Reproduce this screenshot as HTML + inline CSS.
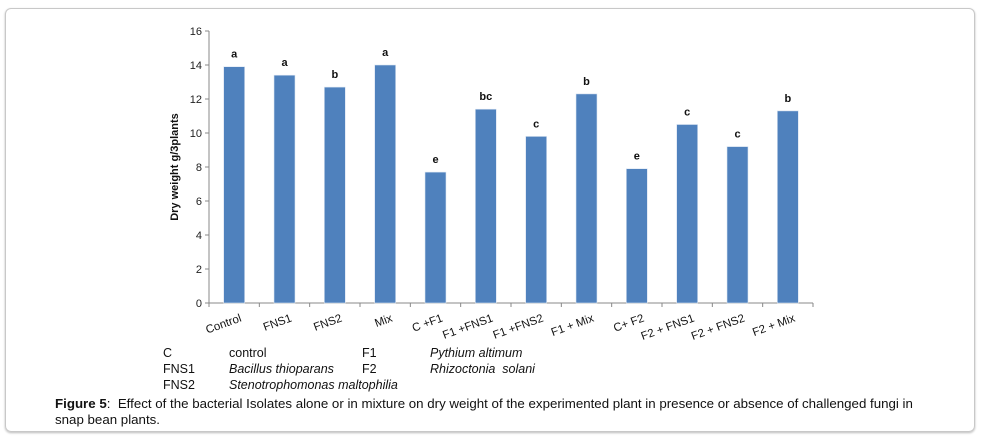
<!DOCTYPE html>
<html><head><meta charset="utf-8"><style>
body{margin:0;background:#fff;font-family:"Liberation Sans",Arial,sans-serif;}
#frame{position:absolute;left:5px;top:8px;width:968px;height:422px;border:1px solid #c8c8c8;border-radius:6px;box-shadow:0 1px 2px #bbb;}
.t{position:absolute;font-size:12.5px;color:#111;white-space:nowrap;}
.i{font-style:italic}
</style></head><body>
<div id="frame"></div>
<svg id="chart" width="982" height="441" style="position:absolute;left:0;top:0"></svg>
<div class="t" style="left:163px;top:346px">C</div>
<div class="t" style="left:229px;top:346px">control</div>
<div class="t" style="left:362px;top:346px">F1</div>
<div class="t i" style="left:430px;top:346px">Pythium altimum</div>
<div class="t" style="left:163px;top:362px">FNS1</div>
<div class="t i" style="left:229px;top:362px">Bacillus thioparans</div>
<div class="t" style="left:362px;top:362px">F2</div>
<div class="t i" style="left:430px;top:362px">Rhizoctonia &nbsp;solani</div>
<div class="t" style="left:163px;top:378px">FNS2</div>
<div class="t i" style="left:229px;top:378px">Stenotrophomonas maltophilia</div>
<div class="t" style="left:55px;top:396px;font-size:13.3px;line-height:16px;white-space:normal;width:875px"><b>Figure 5</b>:&nbsp; Effect of the bacterial Isolates alone or in mixture on dry weight of the experimented plant in presence or absence of challenged fungi in snap bean plants.</div>
<script>
const categories=["Control","FNS1","FNS2","Mix","C +F1","F1 +FNS1","F1 +FNS2","F1 + Mix","C+ F2","F2 + FNS1","F2 + FNS2","F2 + Mix"];
const values=[13.9,13.4,12.7,14.0,7.7,11.4,9.8,12.3,7.9,10.5,9.2,11.3];
const letters=["a","a","b","a","e","bc","c","b","e","c","c","b"];
const yTicks=[0,2,4,6,8,10,12,14,16];
const svg=document.getElementById('chart');const NS='http://www.w3.org/2000/svg';
const X0=209,X1=813,Y0=303,Y1=31,YMAX=16;
const y=v=>Y0-(v/YMAX)*(Y0-Y1);
const bw=(X1-X0)/categories.length;
const xc=i=>X0+bw*(i+0.5);
function mk(t,a,txt){const e=document.createElementNS(NS,t);for(const k in a)e.setAttribute(k,a[k]);if(txt!=null)e.textContent=txt;svg.appendChild(e);return e;}
let e;
e=mk('line',{x1:X0,y1:Y1,x2:X0,y2:Y0,stroke:'#888'});


e=mk('line',{x1:X0,y1:Y0,x2:X1,y2:Y0,stroke:'#888'});


yTicks.forEach(v=>{
 e=mk('line',{x1:X0-4,y1:y(v),x2:X0,y2:y(v),stroke:'#888'});
 
 
 e=mk('text',{x:X0-7,y:y(v)+4,'text-anchor':'end','font-size':11,fill:'#222'},v);
 
 
});
for(let i=0;i<=categories.length;i++){
 e=mk('line',{x1:X0+bw*i,y1:Y0,x2:X0+bw*i,y2:Y0+4,stroke:'#888'});
 
 
}
categories.forEach((c,i)=>{
 const cx=xc(i);
 e=mk('rect',{x:cx-10.5,y:y(values[i]),width:21,height:Y0-y(values[i]),fill:'#4f81bd',stroke:'#dce6f2','stroke-width':0.6});
 
 
 e=mk('text',{x:cx,y:y(values[i])-9,'text-anchor':'middle','font-size':11,'font-weight':'bold',fill:'#111'},letters[i]);
 
 
 e=mk('text',{x:cx+8,y:Y0+18,'text-anchor':'end','font-size':11.5,fill:'#111',transform:`rotate(-20 ${cx+8} ${Y0+18})`},c);
 
 
});
e=mk('text',{x:178,y:167,'text-anchor':'middle','font-size':11,'font-weight':'bold',fill:'#111',transform:'rotate(-90 178 167)'},'Dry weight g/3plants');


</script>
</body></html>
